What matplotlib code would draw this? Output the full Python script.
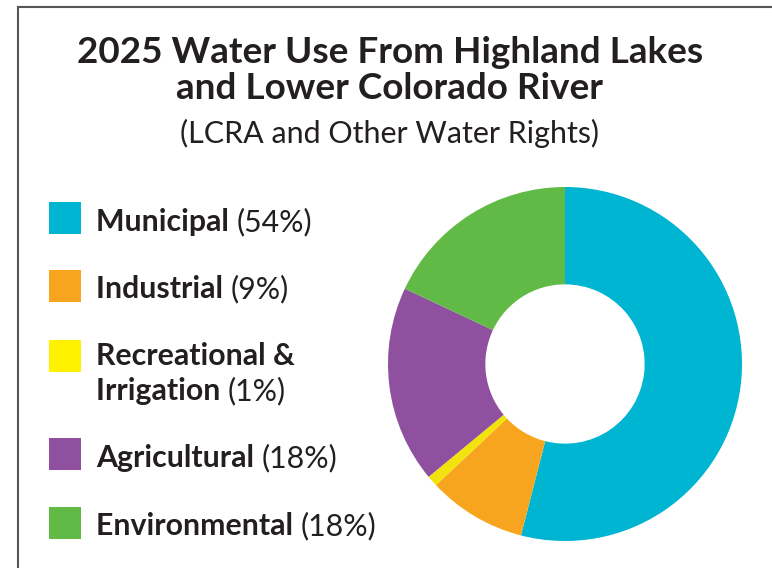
import matplotlib
matplotlib.use("Agg")
import matplotlib.pyplot as plt
from matplotlib.lines import Line2D
from matplotlib.patches import Rectangle

categories = ["Municipal", "Industrial", "Recreational &\nIrrigation", "Agricultural", "Environmental"]
values = [54, 9, 1, 18, 18]
pct_labels = ["(54%)", "(9%)", "(1%)", "(18%)", "(18%)"]
colors = ["#00B5D1", "#F7A51E", "#F2E30C", "#8E509F", "#62BA46"]
legend_colors = ["#00B5D1", "#F7A51E", "#FFF200", "#8E509F", "#62BA46"]

title_lines = ["2025 Water Use From Highland Lakes", "and Lower Colorado River"]
subtitle = "(LCRA and Other Water Rights)"

W, H = 772, 568
DPI = 100
fig = plt.figure(figsize=(W / DPI, H / DPI), dpi=DPI)
fig.patch.set_facecolor("white")
TXT = "#231F20"
FONT = "Lato"
renderer = fig.canvas.get_renderer()

def fx(px):
    return px / W

def fy(py):
    return 1 - py / H

def text_width(s, size, weight):
    t = fig.text(0, 0, s, fontsize=size, fontweight=weight, family=FONT)
    w = t.get_window_extent(renderer).width
    t.remove()
    return w

def fit_size(s, target, weight):
    base = 20
    return base * target / text_width(s, base, weight)

# border
fig.add_artist(Line2D([fx(18), 1], [fy(7), fy(7)], color="#555555", lw=1.5))
fig.add_artist(Line2D([fx(18), fx(18)], [fy(7), 0], color="#555555", lw=1.5))

# title
ts = fit_size(title_lines[0], 625, "bold")
fig.text(fx(390), fy(63), title_lines[0], fontsize=ts, fontweight="bold", family=FONT,
         color=TXT, ha="center", va="baseline")
fig.text(fx(390), fy(99), title_lines[1], fontsize=ts, fontweight="bold", family=FONT,
         color=TXT, ha="center", va="baseline")
ss = fit_size(subtitle, 420, "normal")
fig.text(fx(390), fy(143), subtitle, fontsize=ss, fontweight="normal", family=FONT,
         color=TXT, ha="center", va="baseline")

# legend
ls = fit_size("Environmental ", 196, "bold") * 1.04
sq_tops = [202, 270, 340, 438, 507]
baselines = [[231], [298], [365, 400], [467], [535]]
for cat, pct, col, top, bls in zip(categories, pct_labels, legend_colors, sq_tops, baselines):
    fig.add_artist(Rectangle((fx(49), fy(top + 32)), fx(32), 32 / H, facecolor=col,
                             edgecolor="none", transform=fig.transFigure))
    lines = cat.split("\n")
    for i, (ln, bl) in enumerate(zip(lines, bls)):
        last = i == len(lines) - 1
        s = ln if not last else ln + " "
        t = fig.text(fx(96), fy(bl), s, fontsize=ls, fontweight="bold", family=FONT,
                     color=TXT, ha="left", va="baseline")
        if last:
            w = t.get_window_extent(renderer).width
            fig.text(fx(96 + w), fy(bl), pct, fontsize=ls, fontweight="normal",
                     family=FONT, color=TXT, ha="left", va="baseline")

# donut
cx, cy, r = 565, 364, 177
ax = fig.add_axes([fx(cx - r), (H - cy - r) / H, 2 * r / W, 2 * r / H])
ax.pie(values, colors=colors, startangle=90, counterclock=False, radius=1,
       wedgeprops=dict(width=0.55, edgecolor="none", linewidth=0))
ax.set_xlim(-1, 1)
ax.set_ylim(-1, 1)
ax.set_aspect("equal")
ax.axis("off")

fig.savefig("out.png", dpi=DPI, facecolor="white")
